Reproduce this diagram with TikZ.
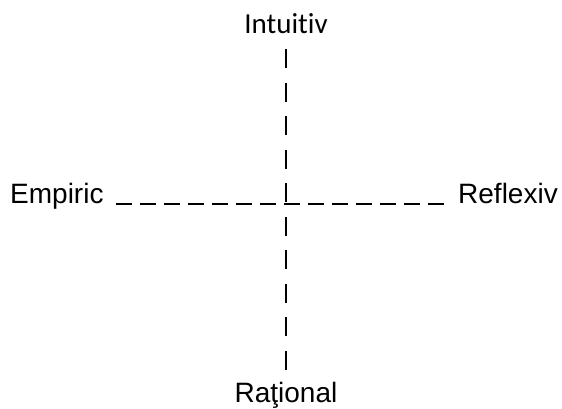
\documentclass[tikz,border=0pt]{standalone}
\usepackage{fontspec}
\setmainfont{Liberation Sans}
\newfontfamily\calibrifont[Ligatures=NoCommon]{Carlito}
\usepackage{tikz}
\usetikzlibrary{positioning}

\begin{document}
\begin{tikzpicture}[x=1pt,y=-1pt,
  pole/.style={inner sep=0pt,font=\fontsize{28}{34}\selectfont},
  axisv/.style={line width=2pt,dash pattern=on 19pt off 14.5pt},
  axish/.style={line width=1.8pt,dash pattern=on 16pt off 8pt},
]
\useasboundingbox (0,0) rectangle (562,408);
\node[pole,anchor=base,font=\fontsize{29}{34}\calibrifont] (intuitiv) at (286,33) {Intuitiv};
\node[pole,anchor=base] (rational) at (286,402) {Raţional};
\node[pole,anchor=base west] (empiric) at (10,203) {Empiric};
\node[pole,anchor=base west] (reflexiv) at (458,203) {Reflexiv};
\draw[axisv,shorten <=16pt,shorten >=11pt] (intuitiv.south) -- (rational.north);
\draw[axish,shorten <=12pt,shorten >=10pt] ([yshift=-1pt]empiric.base east) -- ([yshift=-1pt]reflexiv.base west);
\end{tikzpicture}
\end{document}
